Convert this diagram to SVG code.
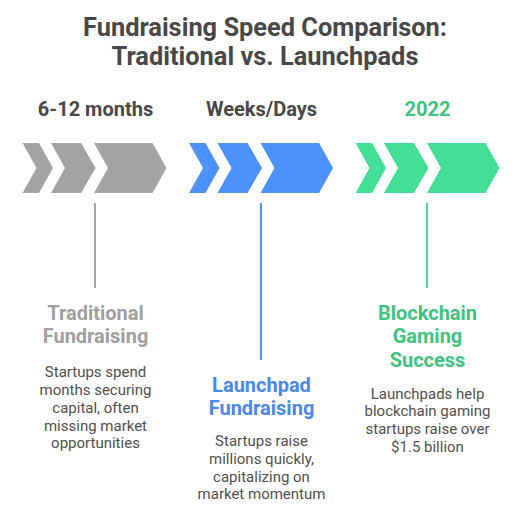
<svg xmlns="http://www.w3.org/2000/svg" width="528" height="510" viewBox="0 0 528 510">
  <style>
    .title { font-family: Roboto, "Liberation Sans", sans-serif; font-weight: 700; font-size: 25.4px; fill: #484848; text-anchor: middle; }
    .label { font-family: Roboto, "Liberation Sans", sans-serif; font-weight: 700; font-size: 20px; text-anchor: middle; }
    .head { font-family: Roboto, "Liberation Sans", sans-serif; font-weight: 700; font-size: 20px; text-anchor: middle; }
    .body { font-family: Roboto, "Liberation Sans", sans-serif; font-weight: 400; font-size: 15px; fill: #505050; text-anchor: middle; }
    .conn { stroke-width: 2; fill: none; }
  </style>
  <defs>
    <g id="chev">
      <polygon points="22.5,143 39,143 53,168 39,193 22.5,193 36.5,168"/>
      <polygon points="51,143 81,143 95.5,168 81,193 51,193 65,168"/>
      <polygon points="94,143 152.5,143 166.5,168 152.5,193 94,193 108,168"/>
    </g>
  </defs>
  <rect width="528" height="510" fill="#ffffff"/>
  <g id="title">
    <text class="title" x="265" y="36">Fundraising Speed Comparison:</text>
    <text class="title" x="265" y="65">Traditional vs. Launchpads</text>
  </g>
  <g id="connectors">
    <line class="conn" x1="95" y1="203" x2="95" y2="288" stroke="#a3a3a3"/>
    <line class="conn" x1="261" y1="203" x2="261" y2="360" stroke="#4e91fc"/>
    <line class="conn" x1="427" y1="203" x2="427" y2="288" stroke="#44df96"/>
  </g>
  <g id="traditional">
    <text class="label" x="95.5" y="116" fill="#484848">6-12 months</text>
    <use href="#chev" fill="#a3a3a3"/>
    <text class="head" fill="#a0a0a0" x="95.5" y="319.5">Traditional</text>
    <text class="head" fill="#a0a0a0" x="95.5" y="343">Fundraising</text>
    <text class="body" x="95.5" y="377">Startups spend</text>
    <text class="body" x="95.5" y="395">months securing</text>
    <text class="body" x="95.5" y="413">capital, often</text>
    <text class="body" x="95.5" y="430.5">missing market</text>
    <text class="body" x="95.5" y="448">opportunities</text>
  </g>
  <g id="launchpad">
    <text class="label" x="261.5" y="116" fill="#484848">Weeks/Days</text>
    <use href="#chev" fill="#4e91fc" transform="translate(166.5,0)"/>
    <text class="head" fill="#4a88ee" x="261.5" y="391.5">Launchpad</text>
    <text class="head" fill="#4a88ee" x="261.5" y="415">Fundraising</text>
    <text class="body" x="261.5" y="446">Startups raise</text>
    <text class="body" x="261.5" y="464">millions quickly,</text>
    <text class="body" x="261.5" y="481.5">capitalizing on</text>
    <text class="body" x="261.5" y="499">market momentum</text>
  </g>
  <g id="blockchain">
    <text class="label" x="427.5" y="116" fill="#3ec47f">2022</text>
    <use href="#chev" fill="#44df96" transform="translate(333,0)"/>
    <text class="head" fill="#3ec47f" x="427.5" y="319.5">Blockchain</text>
    <text class="head" fill="#3ec47f" x="427.5" y="343">Gaming</text>
    <text class="head" fill="#3ec47f" x="427.5" y="367">Success</text>
    <text class="body" x="427.5" y="398.5">Launchpads help</text>
    <text class="body" x="427.5" y="416">blockchain gaming</text>
    <text class="body" x="427.5" y="434">startups raise over</text>
    <text class="body" x="427.5" y="451.5">$1.5 billion</text>
  </g>
</svg>
